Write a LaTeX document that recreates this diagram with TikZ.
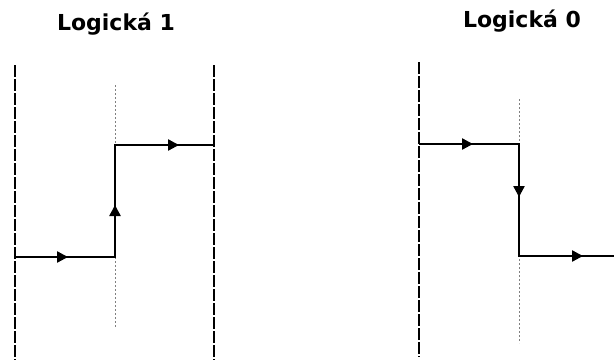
\documentclass[tikz,border=0pt]{standalone}
\usepackage{fontspec}
\setmainfont{DejaVu Sans}
\usetikzlibrary{arrows.meta}
\begin{document}
\begin{tikzpicture}[x=1pt,y=-1pt,
  bound/.style={line width=1.8pt,dash pattern=on 12pt off 2pt},
  mid/.style={gray,line width=0.9pt,dash pattern=on 2pt off 2pt},
  thin/.style={line width=1.1pt},
  thick seg/.style={line width=2.4pt,-{Triangle[length=11pt,width=11pt]}},
  title/.style={font=\fontsize{22}{26}\selectfont\bfseries,anchor=base,inner sep=0pt}]
\useasboundingbox (0,0) rectangle (614,360);
% titles
\node[title] (t1) at (116,30) {Logická 1};
\node[title] (t0) at (522,27) {Logická 0};
% left diagram
\coordinate (l1t) at (15,65); \coordinate (l1b) at (15,360);
\coordinate (r1t) at (214,65); \coordinate (r1b) at (214,360);
\coordinate (m1t) at (115,85); \coordinate (m1b) at (115,328);
\draw[bound] (l1t) -- (l1b);
\draw[bound] (r1t) -- (r1b);
\draw[mid] (m1t) -- (m1b);
\coordinate (a) at (15,257); \coordinate (b) at (115,257);
\coordinate (c) at (115,145); \coordinate (d) at (214,145);
\coordinate (ab) at (68,257); \coordinate (bc) at (115,205); \coordinate (cd) at (179,145);
\draw[thin] (a) -- (b) -- (c) -- (d);
\draw[thick seg] (a) -- (ab);
\draw[thick seg] (b) -- (bc);
\draw[thick seg] (c) -- (cd);
% right diagram
\coordinate (l0t) at (419,62); \coordinate (l0b) at (419,357);
\coordinate (m0t) at (519,99); \coordinate (m0b) at (519,343);
\draw[bound] (l0t) -- (l0b);
\draw[mid] (m0t) -- (m0b);
\coordinate (e) at (419,144); \coordinate (f) at (519,144);
\coordinate (g) at (519,256); \coordinate (h) at (614,256);
\coordinate (ef) at (473,144); \coordinate (fg) at (519,197); \coordinate (gh) at (583,256);
\draw[thin] (e) -- (f) -- (g) -- (h);
\draw[thick seg] (e) -- (ef);
\draw[thick seg] (f) -- (fg);
\draw[thick seg] (g) -- (gh);
\end{tikzpicture}
\end{document}
